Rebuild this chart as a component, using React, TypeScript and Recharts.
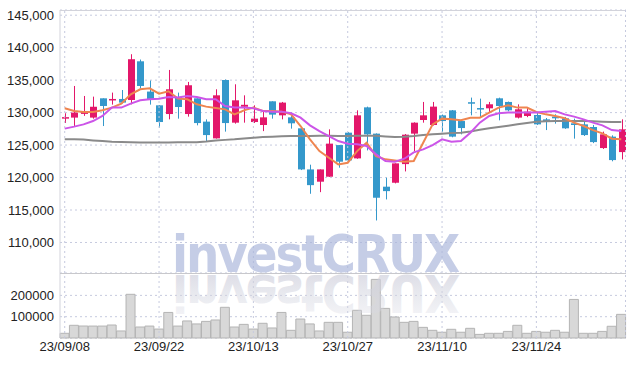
import React from "react";
import {
  ComposedChart,
  Bar,
  Line,
  XAxis,
  YAxis,
  CartesianGrid,
  ReferenceLine,
} from "recharts";

// trading days, 23/09/08 .. 23/12/07
const dates = [
  "23/09/08", "23/09/11", "23/09/12", "23/09/13", "23/09/14", "23/09/15", "23/09/18", "23/09/19", "23/09/20", "23/09/21",
  "23/09/22", "23/09/25", "23/09/26", "23/09/27", "23/10/04", "23/10/05", "23/10/06", "23/10/10", "23/10/11", "23/10/12",
  "23/10/13", "23/10/16", "23/10/17", "23/10/18", "23/10/19", "23/10/20", "23/10/23", "23/10/24", "23/10/25", "23/10/26",
  "23/10/27", "23/10/30", "23/10/31", "23/11/01", "23/11/02", "23/11/03", "23/11/06", "23/11/07", "23/11/08", "23/11/09",
  "23/11/10", "23/11/13", "23/11/14", "23/11/15", "23/11/16", "23/11/17", "23/11/20", "23/11/21", "23/11/22", "23/11/23",
  "23/11/24", "23/11/27", "23/11/28", "23/11/29", "23/11/30", "23/12/01", "23/12/04", "23/12/05", "23/12/06", "23/12/07",
];

const openPrices = [
  129200, 129230, 129800, 129230, 132200, 131890, 132100, 131940, 137900, 133240,
  131120, 129780, 132400, 129780, 132200, 128610, 126030, 135020, 128450, 130900,
  128550, 128090, 131740, 129580, 129270, 127580, 121250, 119360, 120130, 125000,
  126910, 122950, 130810, 126760, 118590, 119200, 122070, 126760, 128860, 128090,
  129580, 130350, 128700, 131600, 130700, 130660, 132200, 131640, 129230, 129480,
  129630, 128960, 129380, 129120, 128350, 128190, 127780, 124540, 126300, 123920,
];
const highPrices = [
  129900, 134100, 132560, 132460, 132200, 133080, 133480, 138990, 138170, 134930,
  131120, 136570, 133080, 134720, 132200, 128960, 133590, 135100, 134360, 132660,
  131120, 130240, 131740, 131640, 130000, 127600, 121980, 121250, 127420, 125000,
  127000, 130350, 130920, 126800, 119970, 122180, 126700, 128500, 131640, 131640,
  129700, 130400, 128800, 132310, 132150, 131640, 132300, 131700, 131270, 130770,
  130090, 129170, 129740, 129330, 129070, 128860, 128100, 127070, 126500, 128960,
];
const lowPrices = [
  128400, 127900, 129500, 129070, 127930, 131230, 131420, 131270, 133700, 131230,
  127680, 128960, 129070, 129380, 128040, 125620, 126000, 127070, 128300, 128450,
  128400, 127150, 129070, 128960, 127530, 121150, 117500, 117750, 120100, 121520,
  122290, 122900, 124180, 113390, 116630, 119100, 120940, 124070, 128450, 128000,
  127010, 126200, 126650, 129580, 129220, 130000, 128810, 130200, 129100, 129300,
  128100, 127310, 128300, 127500, 125990, 126400, 125300, 124400, 122500, 122790,
];
const closePrices = [
  129300, 130000, 130100, 130900, 131020, 132100, 131540, 138220, 134100, 132050,
  128550, 133590, 130860, 134210, 128390, 126540, 132660, 128390, 131890, 131200,
  129070, 129270, 129690, 131540, 128350, 121250, 118830, 121250, 125220, 122440,
  122640, 129580, 126650, 116890, 117910, 122180, 126600, 128450, 129580, 130920,
  128700, 126300, 127620, 131450, 130550, 131280, 131020, 130350, 130510, 130150,
  128190, 128550, 129120, 127580, 128090, 126540, 125460, 126650, 122690, 127420,
];

const ma5 = [
  130660, 130245, 130090, 130100, 130350, 130770, 131385, 132820, 133590, 133740,
  132925, 133280, 132150, 132050, 131280, 130920, 130700, 130500, 129730, 130350,
  130770, 130245, 130245, 130150, 129730, 127930, 125880, 124075, 123050, 122025,
  122280, 124075, 125370, 123300, 122800, 122640, 122430, 122540, 125370, 128190,
  129070, 128960, 128810, 129220, 129220, 130000, 130770, 131120, 130770, 130770,
  130090, 129730, 129480, 129120, 128450, 127930, 127310, 126800, 125980, 125880,
];
const ma20 = [
  127530, 127840, 128190, 128700, 129480, 130770, 130770, 131390, 131890, 132050,
  132150, 132400, 132310, 132560, 132400, 132050, 132050, 131020, 130770, 130770,
  130660, 130250, 130150, 130150, 129890, 129220, 128040, 127160, 126390, 125620,
  125210, 125110, 124850, 123570, 122540, 122440, 122900, 123880, 124340, 125000,
  125880, 125520, 125620, 126910, 128450, 129480, 129890, 130000, 130000, 130000,
  130000, 130150, 130250, 129730, 129380, 128960, 128450, 128040, 127310, 127160,
];
const ma60 = [
  125880, 125880, 125850, 125720, 125620, 125520, 125460, 125420, 125400, 125400,
  125380, 125400, 125420, 125420, 125450, 125550, 125700, 125800, 125880, 126000,
  126140, 126230, 126300, 126350, 126390, 126400, 126410, 126420, 126420, 126410,
  126400, 126420, 126440, 126440, 126330, 126250, 126300, 126390, 126550, 126650,
  126760, 126850, 126910, 127100, 127350, 127580, 127780, 127980, 128190, 128400,
  128600, 128650, 128700, 128720, 128720, 128700, 128650, 128600, 128570, 128550,
];

const volumes = [
  22000, 59600, 56300, 56000, 56000, 61000, 33000, 205000, 51600, 56000,
  42000, 120000, 56000, 80000, 66000, 78000, 84500, 144000, 51600, 64000,
  42000, 69000, 47000, 120000, 36000, 89000, 66000, 33000, 73500, 73500,
  27000, 130000, 106500, 275000, 139000, 98600, 73500, 78000, 50000, 36000,
  27000, 40800, 27000, 45400, 17000, 22000, 22000, 31000, 59600, 22000,
  31000, 27000, 36000, 27000, 181000, 22000, 22000, 31000, 55000, 111000,
];

const dateTicks = ["23/09/08", "23/09/22", "23/10/13", "23/10/27", "23/11/10", "23/11/24"];
const priceTicks = [110000, 115000, 120000, 125000, 130000, 135000, 140000, 145000];
const volumeTicks = [100000, 200000];

const UP = "#e3176a";
const DOWN = "#3498cb";
const GRID = "#c6cadf";
const FONT = "'Liberation Sans', Arial, sans-serif";
const MARK_FONT = "'DejaVu Sans Condensed', 'DejaVu Sans', sans-serif";
const tickStyle = { fill: "#222", fontSize: 13, fontFamily: FONT };

const data = dates.map((date, i) => ({
  date,
  open: openPrices[i],
  high: highPrices[i],
  low: lowPrices[i],
  close: closePrices[i],
  range: [lowPrices[i], highPrices[i]],
  ma5: ma5[i],
  ma20: ma20[i],
  ma60: ma60[i],
  volume: volumes[i],
}));

function Candle(props: any) {
  const { x, y, width, height, payload } = props;
  if (payload == null) return null;
  const { open, close, high, low } = payload;
  const top = Math.min(y, y + height);
  const h = Math.abs(height);
  const span = high - low || 1;
  const toY = (v: number) => top + ((high - v) / span) * h;
  const color = close >= open ? UP : DOWN;
  const cx = Math.round(x + width / 2) + 0.5;
  const bTop = toY(Math.max(open, close));
  const bBot = toY(Math.min(open, close));
  return (
    <g>
      <line x1={cx} x2={cx} y1={top} y2={top + h} stroke={color} strokeWidth={1} />
      <rect x={cx - 3.5} y={bTop} width={7} height={Math.max(bBot - bTop, 1.5)} fill={color} />
    </g>
  );
}

export default function App() {
  return (
    <div style={{ position: "absolute", left: 0, top: 0, width: 634, height: 367, background: "#fff" }}>
      <div style={{ position: "absolute", left: 0, top: 0 }}>
        <ComposedChart width={634} height={273} data={data} margin={{ top: 10, right: 8, bottom: 0, left: 0 }}>
          <CartesianGrid vertical={false} stroke={GRID} strokeDasharray="2 3" />
          {dateTicks.map((d) => (
            <ReferenceLine key={d} x={d} stroke={GRID} strokeDasharray="2 3" />
          ))}
          <XAxis dataKey="date" hide />
          <YAxis
            domain={[105300, 145800]}
            ticks={priceTicks}
            interval={0}
            width={60}
            tickSize={0}
            tickMargin={6}
            tickLine={false}
            axisLine={{ stroke: "#d2d3db" }}
            tick={tickStyle}
            tickFormatter={(v: number) => v.toLocaleString("en-US")}
          />
          <Line type="linear" dataKey="ma60" stroke="#8a8a8a" strokeWidth={2} dot={false} isAnimationActive={false} />
          <Bar dataKey="range" shape={<Candle />} isAnimationActive={false} />
          <Line type="linear" dataKey="ma5" stroke="#ef8550" strokeWidth={2} dot={false} isAnimationActive={false} />
          <Line type="linear" dataKey="ma20" stroke="#cc55e8" strokeWidth={2} dot={false} isAnimationActive={false} />
        </ComposedChart>
      </div>
      <div style={{ position: "absolute", left: 0, top: 273 }}>
        <ComposedChart
          width={634}
          height={94}
          data={data}
          barCategoryGap={0}
          margin={{ top: 0, right: 8, bottom: 0, left: 0 }}
        >
          <CartesianGrid vertical={false} stroke={GRID} strokeDasharray="2 3" />
          {dateTicks.map((d) => (
            <ReferenceLine key={d} x={d} stroke={GRID} strokeDasharray="2 3" />
          ))}
          <XAxis
            dataKey="date"
            ticks={dateTicks}
            interval={0}
            height={29}
            tickSize={0}
            tickMargin={4}
            axisLine={false}
            tickLine={false}
            tick={tickStyle}
          />
          <YAxis
            domain={[0, 305000]}
            ticks={volumeTicks}
            interval={0}
            width={60}
            tickSize={0}
            tickMargin={6}
            tickLine={false}
            axisLine={{ stroke: "#d2d3db" }}
            tick={tickStyle}
          />
          <Bar dataKey="volume" fill="#d8d8d8" stroke="#b4b4b4" strokeWidth={1} isAnimationActive={false} />
        </ComposedChart>
      </div>
      <svg
        width={634}
        height={367}
        style={{ position: "absolute", left: 0, top: 0, pointerEvents: "none" }}
      >
        <defs>
          <linearGradient id="refl" gradientUnits="userSpaceOnUse" x1={0} y1={273} x2={0} y2={230}>
            <stop offset="0" stopColor="#cfd0dc" stopOpacity={0.7} />
            <stop offset="1" stopColor="#d8d9e3" stopOpacity={0.3} />
          </linearGradient>
        </defs>
        <line x1={60} x2={626} y1={10.5} y2={10.5} stroke="#d2d3db" />
        <line x1={60} x2={626} y1={273.5} y2={273.5} stroke="#c8c8cc" />
        <line x1={625.5} x2={625.5} y1={10} y2={338} stroke={GRID} strokeDasharray="2 3" />
        <text
          x={172}
          y={272}
          fontFamily={MARK_FONT}
          fontWeight="bold"
          fontSize={52}
          letterSpacing={-2.1}
          textLength={286}
          lengthAdjust="spacingAndGlyphs"
          fill="#aab6da"
          fillOpacity={0.68}
        >
          investCRUX
        </text>
        <text
          x={172}
          y={272}
          transform="translate(0 547) scale(1 -1)"
          fontFamily={MARK_FONT}
          fontWeight="bold"
          fontSize={52}
          letterSpacing={-2.1}
          textLength={286}
          lengthAdjust="spacingAndGlyphs"
          fill="url(#refl)"
        >
          investCRUX
        </text>
      </svg>
    </div>
  );
}
